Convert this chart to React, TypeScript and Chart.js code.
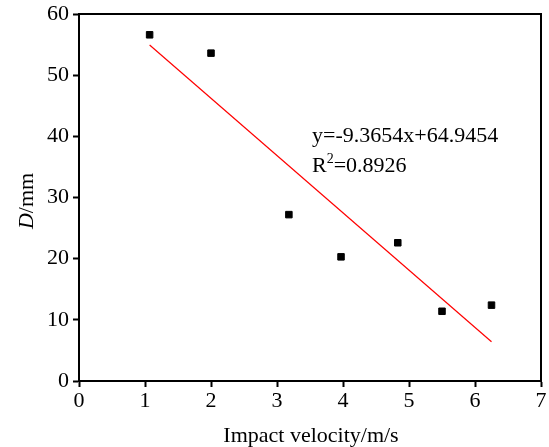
import React, { useEffect, useRef } from "react";
import { Chart, registerables } from "chart.js";

Chart.register(...registerables);

const velocity = [1.07, 2.0, 3.18, 3.97, 4.83, 5.5, 6.25];
const diameter = [56.6, 53.6, 27.2, 20.3, 22.6, 11.4, 12.4];
const fitX = [1.07, 6.25];
const fitY = [54.92, 6.41];
const xTicks = [0, 1, 2, 3, 4, 5, 6, 7];
const yTicks = [0, 10, 20, 30, 40, 50, 60];
const equationText = "y=-9.3654x+64.9454";
const r2Text = "=0.8926";
const xTitle = "Impact velocity/m/s";

const FONT = '"Liberation Serif", "Times New Roman", serif';

export default function App() {
  const ref = useRef<HTMLCanvasElement | null>(null);

  useEffect(() => {
    document.body.style.margin = "0";
    const canvas = ref.current;
    if (!canvas) return;

    const framePlugin = {
      id: "frameAndText",
      afterDraw(chart: any) {
        const { ctx, chartArea } = chart;
        const { left, right, top, bottom } = chartArea;
        ctx.save();
        ctx.strokeStyle = "#000";
        ctx.lineWidth = 2;
        ctx.beginPath();
        ctx.moveTo(left - 1, top);
        ctx.lineTo(right, top);
        ctx.lineTo(right, bottom + 1);
        ctx.stroke();

        ctx.fillStyle = "#000";
        ctx.textBaseline = "alphabetic";
        ctx.textAlign = "left";
        // Equation annotation
        ctx.font = `22px ${FONT}`;
        const ex = 312;
        ctx.fillText(equationText, ex, 142);
        ctx.fillText("R", ex, 172);
        const rw = ctx.measureText("R").width;
        ctx.font = `14px ${FONT}`;
        ctx.fillText("2", ex + rw, 163);
        const sw = ctx.measureText("2").width;
        ctx.font = `22px ${FONT}`;
        ctx.fillText(r2Text, ex + rw + sw, 172);

        // X title
        ctx.textAlign = "center";
        ctx.font = `22px ${FONT}`;
        ctx.fillText(xTitle, 311, 442);

        // Y title
        ctx.save();
        ctx.translate(33, 201);
        ctx.rotate(-Math.PI / 2);
        ctx.textAlign = "left";
        ctx.font = `italic 22px ${FONT}`;
        const dw = ctx.measureText("D").width;
        ctx.font = `22px ${FONT}`;
        const mw = ctx.measureText("/mm").width;
        const start = -(dw + mw) / 2;
        ctx.font = `italic 22px ${FONT}`;
        ctx.fillText("D", start, 0);
        ctx.font = `22px ${FONT}`;
        ctx.fillText("/mm", start + dw, 0);
        ctx.restore();
        ctx.restore();
      },
    };

    const axisCommon = {
      type: "linear" as const,
      grid: {
        display: true,
        drawOnChartArea: false,
        drawTicks: true,
        tickLength: 6,
        tickWidth: 2,
        tickColor: "#000",
      },
      border: { display: true, width: 2, color: "#000" },
    };

    const chart = new Chart(canvas, {
      type: "scatter",
      data: {
        datasets: [
          {
            type: "line",
            data: fitX.map((x, i) => ({ x, y: fitY[i] })),
            borderColor: "#ff0000",
            borderWidth: 1.2,
            pointRadius: 0,
            fill: false,
          } as any,
          {
            type: "scatter",
            data: velocity.map((x, i) => ({ x, y: diameter[i] })),
            pointStyle: "rect",
            pointRadius: 4.6,
            backgroundColor: "#000",
            borderColor: "#000",
            borderWidth: 1,
          },
        ],
      },
      options: {
        responsive: false,
        animation: false,
        events: [],
        layout: { padding: { top: 14, right: 8, left: 0, bottom: 0 } },
        plugins: {
          legend: { display: false },
          tooltip: { enabled: false },
        },
        scales: {
          x: {
            ...axisCommon,
            min: 0,
            max: 7,
            afterBuildTicks: (s: any) => {
              s.ticks = xTicks.map((v) => ({ value: v }));
            },
            afterFit: (s: any) => {
              s.height = 66;
              s.paddingLeft = 0;
              s.paddingRight = 0;
            },
            ticks: {
              color: "#000",
              font: { family: FONT, size: 22 },
              padding: 1,
              maxRotation: 0,
            },
          },
          y: {
            ...axisCommon,
            min: 0,
            max: 60,
            afterBuildTicks: (s: any) => {
              s.ticks = yTicks.map((v) => ({ value: v }));
            },
            afterFit: (s: any) => {
              s.width = 79;
              s.paddingTop = 0;
              s.paddingBottom = 0;
            },
            ticks: {
              color: "#000",
              font: { family: FONT, size: 22 },
              padding: 4,
            },
          },
        },
      },
      plugins: [framePlugin],
    });

    return () => chart.destroy();
  }, []);

  return (
    <div style={{ position: "absolute", left: 0, top: 0, width: 549, height: 447 }}>
      <canvas ref={ref} width={549} height={447} style={{ display: "block" }} />
    </div>
  );
}
